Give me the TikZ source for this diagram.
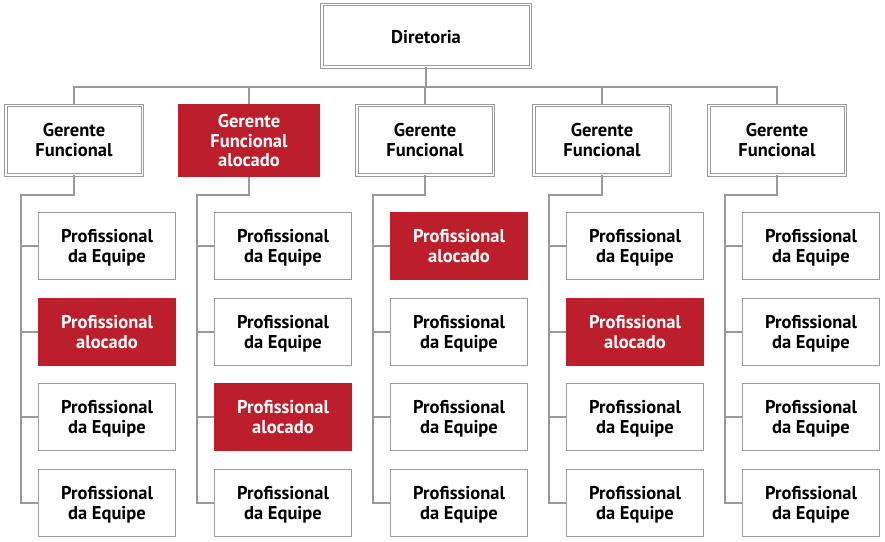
\documentclass[tikz,border=0pt]{standalone}
\usepackage{fontspec}
\setmainfont{PT Sans}
\definecolor{redbox}{HTML}{BC1F2B}
\definecolor{linegray}{HTML}{9A9A9A}
\begin{document}
\begin{tikzpicture}[x=1pt,y=-1pt,
  txt/.style={font=\fontsize{18.5}{19.5}\selectfont\bfseries, align=center, inner sep=0pt,
    text depth=0pt, execute at begin node={\rule{0pt}{16.5pt}}},
  dbox/.style={txt, draw=linegray, double=white, double distance=1.5pt, line width=1pt, fill=white, text=black},
  boss/.style={dbox, minimum width=208.5pt, minimum height=62.5pt, execute at begin node={}},
  mgr/.style={dbox, minimum width=136.5pt, minimum height=69.5pt},
  mgrred/.style={txt, fill=redbox, text=white, minimum width=142pt, minimum height=73pt},
  prof/.style={txt, draw=linegray, line width=1.2pt, fill=white, text=black, minimum width=137pt, minimum height=67pt},
  profred/.style={txt, fill=redbox, text=white, minimum width=138pt, minimum height=68pt},
  conn/.style={draw=linegray, line width=1.5pt}
]
\useasboundingbox (0,0) rectangle (885,541);
\node[boss] (dir) at (426,35.5) {Diretoria};
\coordinate (bus) at (426,87);
% managers
\node[mgr] (m1) at (74,140) {Gerente\\Funcional};
\node[mgrred] (m2) at (249,140.5) {Gerente\\Funcional\\alocado};
\node[mgr] (m3) at (425,140) {Gerente\\Funcional};
\node[mgr] (m4) at (602,140) {Gerente\\Funcional};
\node[mgr] (m5) at (777,140) {Gerente\\Funcional};
% connectors top
\draw[conn] (dir.south) -- (bus);
\draw[conn] (m1.north) |- (bus -| m5.north) -- (m5.north);
\foreach \m in {m2,m3,m4}{
  \draw[conn] (\m.north) -- (\m.north |- bus);
}
% elbow points of the column lines
\foreach \c [count=\i from 0] in {1,...,5}{
  \pgfmathsetmacro{\lx}{21+176*\i}
  \coordinate (e\c) at (\lx,195);
}
% column 1
\node[prof] (p11) at (107,246) {Profissional\\da Equipe};
\node[profred] (p12) at (107,332) {Profissional\\alocado};
\node[prof] (p13) at (107,417) {Profissional\\da Equipe};
\node[prof] (p14) at (107,503) {Profissional\\da Equipe};
% column 2
\node[prof] (p21) at (283,246) {Profissional\\da Equipe};
\node[prof] (p22) at (283,332) {Profissional\\da Equipe};
\node[profred] (p23) at (283,417) {Profissional\\alocado};
\node[prof] (p24) at (283,503) {Profissional\\da Equipe};
% column 3
\node[profred] (p31) at (459,246) {Profissional\\alocado};
\node[prof] (p32) at (459,332) {Profissional\\da Equipe};
\node[prof] (p33) at (459,417) {Profissional\\da Equipe};
\node[prof] (p34) at (459,503) {Profissional\\da Equipe};
% column 4
\node[prof] (p41) at (635,246) {Profissional\\da Equipe};
\node[profred] (p42) at (635,332) {Profissional\\alocado};
\node[prof] (p43) at (635,417) {Profissional\\da Equipe};
\node[prof] (p44) at (635,503) {Profissional\\da Equipe};
% column 5
\node[prof] (p51) at (811,246) {Profissional\\da Equipe};
\node[prof] (p52) at (811,332) {Profissional\\da Equipe};
\node[prof] (p53) at (811,417) {Profissional\\da Equipe};
\node[prof] (p54) at (811,503) {Profissional\\da Equipe};
% child connectors
\foreach \c in {1,...,5}{
  \draw[conn] (m\c.south) |- (e\c) |- (p\c4.west);
  \foreach \r in {1,2,3}{
    \draw[conn] (e\c |- p\c\r.west) -- (p\c\r.west);
  }
}
\end{tikzpicture}
\end{document}
